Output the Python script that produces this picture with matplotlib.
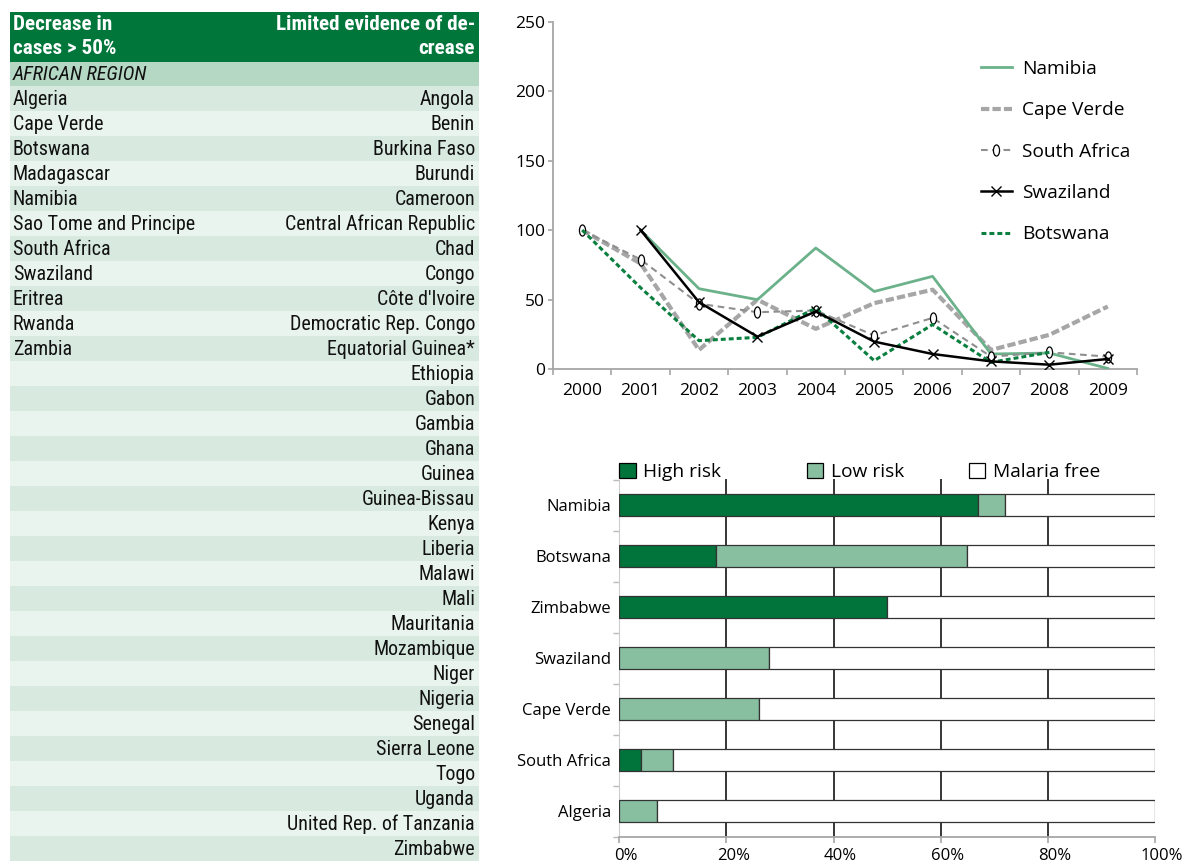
import matplotlib
matplotlib.use('Agg')
import matplotlib.pyplot as plt
import numpy as np
from matplotlib.patches import Rectangle, Patch
from matplotlib.path import Path
from matplotlib.transforms import ScaledTranslation
from matplotlib import font_manager

nan = np.nan
# ---------------- data ----------------
years = ['2000', '2001', '2002', '2003', '2004', '2005', '2006', '2007', '2008', '2009']
namibia = [nan, 100, 57.8, 49.9, 87.1, 55.8, 66.7, 10.8, 11.5, 0.4]
cape_verde = [100, 75.9, 13.7, 49.9, 28.9, 47.4, 57.1, 13.7, 24.6, 45.0]
south_africa = [100, 78.8, 47.0, 40.9, 42.1, 24.1, 36.8, 8.9, 12.0, 8.9]
swaziland = [nan, 100, 48.1, 23.3, 41.4, 19.7, 10.8, 5.5, 3.1, 7.2]
botswana = [100, 58.5, 20.4, 22.8, 43.8, 6.0, 32.0, 4.8, 12.0, nan]
y_ticks = [0, 50, 100, 150, 200, 250]

bar_countries = ['Namibia', 'Botswana', 'Zimbabwe', 'Swaziland', 'Cape Verde', 'South Africa', 'Algeria']
high_risk = [67, 18, 50, 0, 0, 4, 0]
low_risk = [5, 47, 0, 28, 26, 6, 7]
malaria_free = [100 - h - l for h, l in zip(high_risk, low_risk)]
pct_ticks = [0, 20, 40, 60, 80, 100]

header_left = 'Decrease in\ncases > 50%'
header_right = 'Limited evidence of de-\ncrease'
region_label = 'AFRICAN REGION'
decrease_countries = ['Algeria', 'Cape Verde', 'Botswana', 'Madagascar', 'Namibia',
                      'Sao Tome and Principe', 'South Africa', 'Swaziland', 'Eritrea',
                      'Rwanda', 'Zambia']
limited_countries = ['Angola', 'Benin', 'Burkina Faso', 'Burundi', 'Cameroon',
                     'Central African Republic', 'Chad', 'Congo', "Côte d'Ivoire",
                     'Democratic Rep. Congo', 'Equatorial Guinea*', 'Ethiopia', 'Gabon',
                     'Gambia', 'Ghana', 'Guinea', 'Guinea-Bissau', 'Kenya', 'Liberia',
                     'Malawi', 'Mali', 'Mauritania', 'Mozambique', 'Niger', 'Nigeria',
                     'Senegal', 'Sierra Leone', 'Togo', 'Uganda', 'United Rep. of Tanzania',
                     'Zimbabwe']

# ---------------- fonts / colours ----------------
ttf = font_manager.fontManager.ttflist
names = {f.name for f in ttf}
narrow_family = None
narrow_stretch = 'normal'
for cand in ['Liberation Sans Narrow', 'Roboto Condensed', 'Open Sans Condensed', 'Noto Sans Condensed']:
    if cand in names:
        narrow_family = cand
        break
if narrow_family is None:
    for f in ttf:
        st = f.stretch
        if st in ('condensed', 'semi-condensed', 'extra-condensed') or (isinstance(st, int) and st < 500):
            if f.name in ('DejaVu Sans', 'Roboto', 'Noto Sans', 'Open Sans', 'Liberation Sans', 'Inter'):
                narrow_family = f.name
                narrow_stretch = st
                break
if narrow_family is None:
    narrow_family = 'Roboto'
NARROW = [narrow_family, 'DejaVu Sans']
chart_font = 'Open Sans'
plt.rcParams['font.family'] = [chart_font, 'DejaVu Sans']

DARK_GREEN = '#00743A'
LIGHT_GREEN = '#88BFA1'
NAM_GREEN = '#6BB28B'
BOTS_GREEN = '#0A7F3F'
HEADER_GREEN = '#00763A'
REGION_BG = '#B4D8C3'
ROW_DARK = '#D8EAE0'
ROW_LIGHT = '#EAF4EE'
AXIS_GRAY = '#A6A6A6'
TFS = 14.4 if narrow_family != 'Roboto' else 13
HFS = 15.2 if narrow_family != 'Roboto' else 13.5

W, H = 1182, 863
fig = plt.figure(figsize=(W / 100, H / 100), dpi=100)

# ---------------- table ----------------
axt = fig.add_axes([0, 0, 1, 1])
axt.set_xlim(0, W)
axt.set_ylim(H, 0)
axt.axis('off')
x0, x1 = 9.5, 479
axt.add_patch(Rectangle((x0, 11.7), x1 - x0, 50, facecolor=HEADER_GREEN, edgecolor='none'))
hl = header_left.split('\n')
hr = header_right.split('\n')
tkw = dict(family=NARROW, stretch=narrow_stretch, fontsize=TFS)
hkw = dict(family=NARROW, stretch=narrow_stretch, fontsize=HFS)
for i in range(2):
    yy = 24 + 25 * i
    axt.text(13, yy, hl[i], ha='left', va='center', color='white', fontweight='bold', **hkw)
    axt.text(475, yy, hr[i], ha='right', va='center', color='white', fontweight='bold', **hkw)
rh = 25.0
ry0 = 61.7
axt.add_patch(Rectangle((x0, ry0), x1 - x0, 24.6, facecolor=REGION_BG, edgecolor='none'))
axt.text(13, ry0 + 12.5, region_label, ha='left', va='center', style='italic',
         color='#111111', **tkw)
start = ry0 + 24.6
for i in range(len(limited_countries)):
    top = start + rh * i
    axt.add_patch(Rectangle((x0, top), x1 - x0, rh, facecolor=ROW_DARK if i % 2 == 0 else ROW_LIGHT,
                            edgecolor='none'))
    axt.text(475, top + rh / 2 + 0.5, limited_countries[i], ha='right', va='center',
             color='#111111', **tkw)
    if i < len(decrease_countries):
        axt.text(13, top + rh / 2 + 0.5, decrease_countries[i], ha='left', va='center',
                 color='#111111', **tkw)

# ---------------- line chart ----------------
ax1 = fig.add_axes([553 / W, 1 - 369 / H, (1137 - 553) / W, (369 - 21.7) / H])
x = np.arange(len(years))
circ = Path.unit_circle()
ell = Path(circ.vertices * np.array([0.55, 1.0]), circ.codes)

ax1.plot(x, namibia, color=NAM_GREEN, lw=2.0, label='Namibia', zorder=3)
ax1.plot(x, cape_verde, color=AXIS_GRAY, lw=3.0, dashes=(2.0, 0.75), label='Cape Verde', zorder=2)
ax1.plot(x, south_africa, color='#8F8F8F', lw=1.5, dashes=(3.2, 2.2), marker=ell, markersize=8,
         markerfacecolor='white', markeredgecolor='black', markeredgewidth=0.9,
         label='South Africa', zorder=4)
ax1.plot(x, swaziland, color='black', lw=1.8, marker='x', markersize=7, markeredgewidth=1.0,
         label='Swaziland', zorder=5)
ax1.plot(x, botswana, color=BOTS_GREEN, lw=2.2, dashes=(1.6, 1.0), label='Botswana', zorder=4)

ax1.set_xlim(-0.5, len(years) - 0.5)
ax1.set_ylim(0, 250)
ax1.set_yticks(y_ticks)
ax1.set_xticks(x)
ax1.set_xticklabels(years)
ax1.set_xticks(np.arange(len(years) + 1) - 0.5, minor=True)
ax1.tick_params(axis='x', which='major', length=0, pad=10, labelsize=12.5)
ax1.tick_params(axis='x', which='minor', length=4, color=AXIS_GRAY, width=1.2)
ax1.tick_params(axis='y', length=3.5, color=AXIS_GRAY, width=1.2, labelsize=12.5, pad=2)
for s in ['top', 'right']:
    ax1.spines[s].set_visible(False)
for s in ['left', 'bottom']:
    ax1.spines[s].set_color(AXIS_GRAY)
    ax1.spines[s].set_linewidth(1.3)
ax1.patch.set_alpha(0)
leg1 = ax1.legend(loc='upper left', bbox_to_anchor=(0.733, 0.89), frameon=False, fontsize=13.8,
                  labelspacing=1.22, handlelength=1.6, handletextpad=0.55, borderpad=0,
                  borderaxespad=0)

# ---------------- bar chart ----------------
ax2 = fig.add_axes([619.3 / W, 1 - 836.5 / H, (1154.8 - 619.3) / W, (836.5 - 479.5) / H])
yb = np.arange(len(bar_countries))
bh = 0.43
lw_h = [0.9 if v > 0 else 0 for v in high_risk]
lw_l = [0.9 if v > 0 else 0 for v in low_risk]
ax2.barh(yb, high_risk, height=bh, color=DARK_GREEN, edgecolor='#333333', linewidth=lw_h,
         label='High risk', zorder=3)
ax2.barh(yb, low_risk, left=high_risk, height=bh, color=LIGHT_GREEN, edgecolor='#333333',
         linewidth=lw_l, label='Low risk', zorder=3)
left3 = [h + l for h, l in zip(high_risk, low_risk)]
ax2.barh(yb, malaria_free, left=left3, height=bh, color='white', edgecolor='#333333',
         linewidth=0.9, label='Malaria free', zorder=3)
ax2.set_ylim(len(bar_countries) - 0.5, -0.5)
ax2.set_xlim(0, 100)
ax2.set_yticks(yb)
ax2.set_yticklabels(bar_countries)
ax2.set_yticks(np.arange(len(bar_countries) + 1) - 0.5, minor=True)
ax2.tick_params(axis='y', which='major', length=0, pad=6, labelsize=12)
ax2.tick_params(axis='y', which='minor', length=4, color='#BBBBBB', width=1)
ax2.set_xticks(pct_ticks)
ax2.set_xticklabels([f'{v}%' for v in pct_ticks])
ax2.tick_params(axis='x', length=4, color=AXIS_GRAY, width=1.2, labelsize=12, pad=4)
shift = ScaledTranslation(7 / 100, 0, fig.dpi_scale_trans)
for lab in ax2.get_xticklabels():
    lab.set_transform(lab.get_transform() + shift)
for v in pct_ticks[1:-1]:
    ax2.axvline(v, color='black', lw=1.1, zorder=1)
for s in ['top', 'right']:
    ax2.spines[s].set_visible(False)
ax2.spines['left'].set_color('#CCCCCC')
ax2.spines['left'].set_linewidth(0.8)
ax2.spines['bottom'].set_color(AXIS_GRAY)
ax2.spines['bottom'].set_linewidth(1.3)
leg_labels = ['High risk', 'Low risk', 'Malaria free']
leg_colors = [DARK_GREEN, LIGHT_GREEN, 'white']
leg_x = [0.0, 0.35, 0.653]
for k, (lab, col, lx) in enumerate(zip(leg_labels, leg_colors, leg_x)):
    h = Patch(facecolor=col, edgecolor='black', linewidth=0.9)
    lg = ax2.legend([h], [lab], loc='lower left', bbox_to_anchor=(lx, 0.996), frameon=False,
                    fontsize=13.8, handlelength=0.85, handleheight=0.85, handletextpad=0.4,
                    borderpad=0, borderaxespad=0.0)
    if k < len(leg_labels) - 1:
        ax2.add_artist(lg)

fig.savefig('out.png', dpi=100)
